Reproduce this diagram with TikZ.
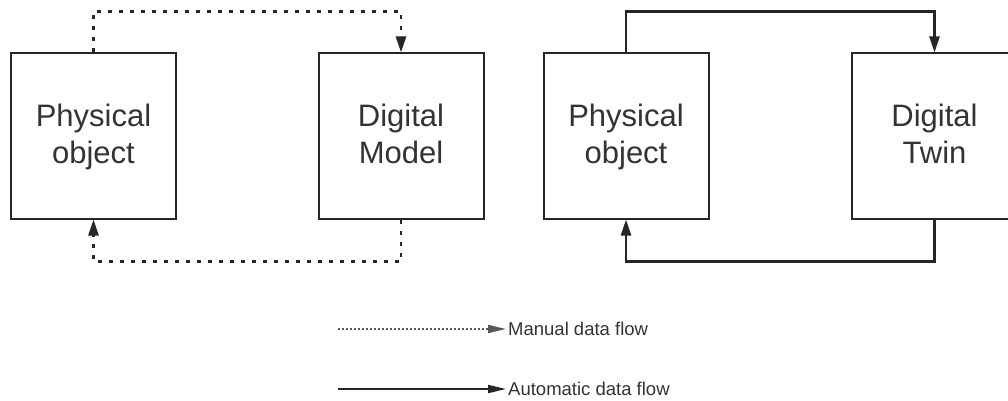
\documentclass[tikz,border=0pt]{standalone}
\usepackage{fontspec}
\setmainfont{Liberation Sans}
\usetikzlibrary{arrows.meta}

\begin{document}
\begin{tikzpicture}
[x=1pt,y=-1pt,%
  every node/.style={text=black!80},%
  block/.style={rectangle,draw=black!85,line width=2pt,minimum width=165pt,minimum height=165pt,align=center,text height=61pt,text depth=7pt,font=\fontsize{31}{37}\selectfont},%
  manflow/.style={draw=black!85,line width=2.5pt,dash pattern=on 4.5pt off 6.5pt,-{Triangle[length=16pt,width=10pt]}},%
  autoflow/.style={draw=black!85,line width=2.5pt,-{Triangle[length=16pt,width=10pt]}},%
  legtext/.style={anchor=west,inner sep=2pt,font=\fontsize{18.5}{22}\selectfont},%
  legdot/.style={draw=black!65,line width=2pt,dash pattern=on 1.5pt off 2.5pt,-{Triangle[length=18pt,width=8pt]}},%
  legline/.style={draw=black!85,line width=2pt,-{Triangle[length=18pt,width=8pt]}}]
\useasboundingbox (0,0) rectangle (1008,401);
% manual loop
\node[block] (pobjm) at (93.5,136) {Physical\\object};
\node[block] (dmodel) at (401,136) {Digital\\Model};
\draw[manflow] (pobjm.north) -- ++(0,-41) -| (dmodel.north);
\draw[manflow] (dmodel.south) -- ++(0,42) -| (pobjm.south);
% automatic loop
\node[block] (pobja) at (626,136) {Physical\\object};
\node[block] (dtwin) at (934.5,136) {Digital\\Twin};
\draw[autoflow] (pobja.north) -- ++(0,-41) -| (dtwin.north);
\draw[autoflow] (dtwin.south) -- ++(0,42) -| (pobja.south);
% legend
\node[legtext] (lman) at (506,329) {Manual data flow};
\coordinate (lmanstart) at (338,329);
\draw[legdot] (lmanstart) -- (lman.west);
\node[legtext] (lauto) at (506,389) {Automatic data flow};
\coordinate (lautostart) at (338,389);
\draw[legline] (lautostart) -- (lauto.west);
\end{tikzpicture}
\end{document}
